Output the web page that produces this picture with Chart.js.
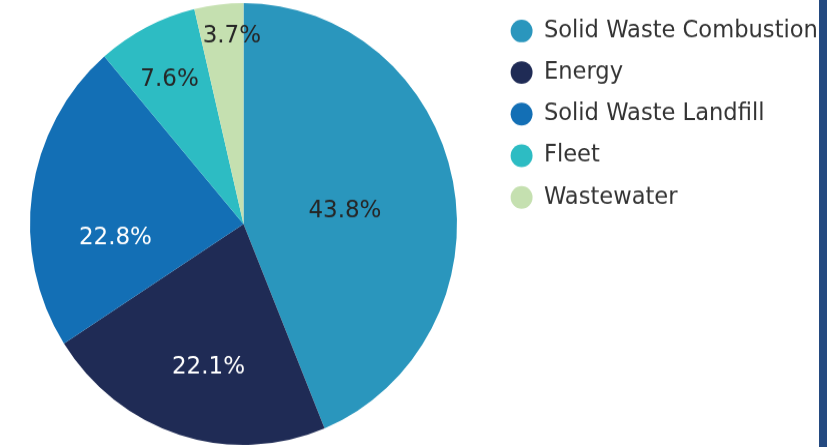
<!DOCTYPE html>
<html>
<head>
<meta charset="utf-8">
<script src="https://cdn.jsdelivr.net/npm/chart.js@4.4.1/dist/chart.umd.min.js"></script>
<style>
  html, body { margin: 0; padding: 0; background: #ffffff; }
  body { width: 827px; height: 447px; overflow: hidden; position: relative; }
  /* source picture is slightly taller than wide, so stretch the canvas a bit */
  #wrap { position: absolute; left: 0; top: 0; width: 827px; height: 432px;
          transform: scaleY(1.0347); transform-origin: 0 0; }
  #edge { position: absolute; left: 819px; top: 0; width: 8px; height: 447px; background: #244a80; }
</style>
</head>
<body>
<div id="wrap"><canvas id="pieChart"></canvas></div>
<div id="edge"></div>
<script>
// Emissions share by sector (%)
const categories = ["Solid Waste Combustion", "Energy", "Solid Waste Landfill", "Fleet", "Wastewater"];
const shares = [43.8, 22.1, 22.8, 7.6, 3.7];

const sliceColors = ["#2a96bd", "#1f2b55", "#136fb5", "#2dbcc3", "#c5e0b0"];
const labelColors = ["#262626", "#ffffff", "#ffffff", "#262626", "#262626"];
// where each percentage sits: fraction of radius, and turn (deg) away from the slice middle
const labelRadius = [0.479, 0.670, 0.603, 0.740, 0.852];
const labelTurn = [3.9, -3.3, -14.1, -0.9, 3.0];

const FONT = "'DejaVu Sans', sans-serif";

// legend sits to the right of the pie, fixed width so the pie stays put
const legendPlace = {
    id: "legendPlace",
    beforeInit(chart) {
        const fit = chart.legend.fit;
        chart.legend.fit = function () {
            fit.call(this);
            this.width = 340;
        };
    },
    afterLayout(chart) {
        chart.legend.left += 6;
        chart.legend.right += 6;
        chart.legend.top -= 2;
        chart.legend.bottom -= 2;
    }
};

// percentage labels inside the slices
const sliceLabels = {
    id: "sliceLabels",
    afterDatasetsDraw(chart) {
        const ctx = chart.ctx;
        const meta = chart.getDatasetMeta(0);
        ctx.save();
        ctx.font = "23px " + FONT;
        ctx.textAlign = "center";
        ctx.textBaseline = "middle";
        meta.data.forEach((arc, i) => {
            const p = arc.getProps(["x", "y", "startAngle", "endAngle", "outerRadius"], true);
            const a = (p.startAngle + p.endAngle) / 2 + labelTurn[i] * Math.PI / 180;
            const r = p.outerRadius * labelRadius[i];
            ctx.fillStyle = labelColors[i];
            ctx.fillText(shares[i].toFixed(1) + "%", p.x + r * Math.cos(a), p.y + r * Math.sin(a));
        });
        ctx.restore();
    }
};

new Chart(document.getElementById("pieChart").getContext("2d"), {
    type: "pie",
    data: {
        labels: categories,
        datasets: [{
            data: shares,
            backgroundColor: sliceColors,
            borderWidth: 0
        }]
    },
    options: {
        responsive: true,
        maintainAspectRatio: false,
        animation: false,
        layout: { padding: { left: 0, right: 0, top: 3, bottom: 2 } },
        plugins: {
            tooltip: { enabled: false },
            legend: {
                position: "right",
                align: "start",
                labels: {
                    usePointStyle: true,
                    pointStyle: "circle",
                    boxWidth: 22,
                    boxHeight: 15.5,
                    padding: 17.6,
                    color: "#333333",
                    font: { family: FONT, size: 22.6 }
                }
            }
        }
    },
    plugins: [legendPlace, sliceLabels]
});
</script>
</body>
</html>
